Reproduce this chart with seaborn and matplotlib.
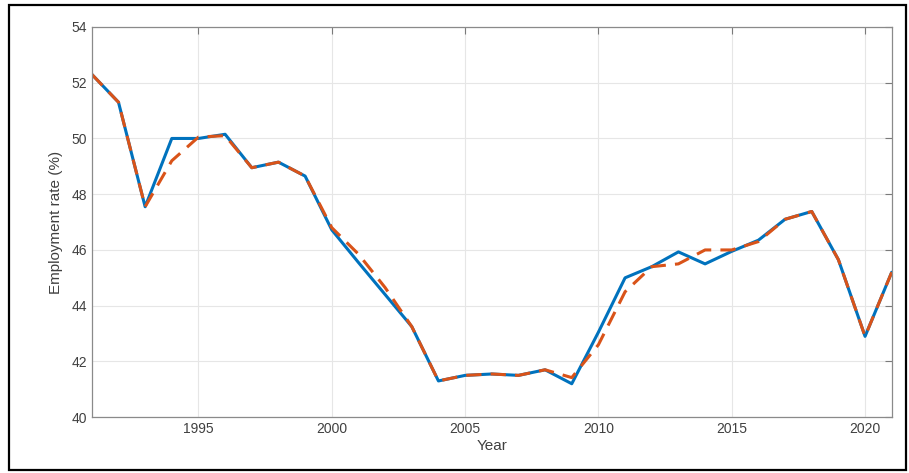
import matplotlib
matplotlib.use("Agg")
import matplotlib.pyplot as plt
import seaborn as sns
import pandas as pd
from matplotlib.patches import Rectangle

years = list(range(1991, 2022))
actual = [52.3, 51.3, 47.55, 50.0, 50.0, 50.15, 48.95, 49.15, 48.65, 46.72,
          45.55, 44.4, 43.25, 41.3, 41.5, 41.55, 41.5, 41.7, 41.2, 43.05,
          45.0, 45.4, 45.93, 45.5, 45.95, 46.35, 47.1, 47.38, 45.65, 42.9,
          45.2]
fitted = [52.3, 51.3, 47.55, 49.2, 50.05, 50.1, 48.95, 49.15, 48.65, 46.8,
          45.85, 44.65, 43.25, 41.3, 41.5, 41.55, 41.5, 41.7, 41.42, 42.6,
          44.5, 45.4, 45.5, 46.0, 46.0, 46.3, 47.1, 47.38, 45.65, 42.9,
          45.2]
xticks = [1995, 2000, 2005, 2010, 2015, 2020]
yticks = [40, 42, 44, 46, 48, 50, 52, 54]

df = pd.DataFrame({"Year": years, "actual": actual, "fitted": fitted})

sns.set_style("white")
plt.rcParams['font.family'] = ['Liberation Sans', 'DejaVu Sans']

fig = plt.figure(figsize=(9.09, 4.73), dpi=100)
ax = fig.add_axes([0.101, 0.118, 0.880, 0.825])

sns.lineplot(data=df, x="Year", y="actual", ax=ax, color="#0072BD", linewidth=2.2)
sns.lineplot(data=df, x="Year", y="fitted", ax=ax, color="#D95319", linewidth=2.2,
             linestyle=(0, (5, 3)))

ax.set_xlim(1991, 2021)
ax.set_ylim(40, 54)
ax.set_xticks(xticks)
ax.set_yticks(yticks)
ax.grid(True, color="#e6e6e6", linewidth=0.8)
ax.tick_params(direction="in", length=5, width=0.8, colors="#7a7a7a",
               labelcolor="#404040", labelsize=10, top=True, right=True,
               labeltop=False, labelright=False)
for s in ax.spines.values():
    s.set_color("#8a8a8a")
    s.set_linewidth(0.9)
ax.set_xlabel("Year", fontsize=11, color="#404040", labelpad=2)
ax.set_ylabel("Employment rate (%)", fontsize=11, color="#404040", labelpad=6)

fig.patches.append(Rectangle((0.010, 0.007), 0.987, 0.982, transform=fig.transFigure,
                             fill=False, edgecolor="black", linewidth=1.6))

fig.savefig("out.png", dpi=100)
